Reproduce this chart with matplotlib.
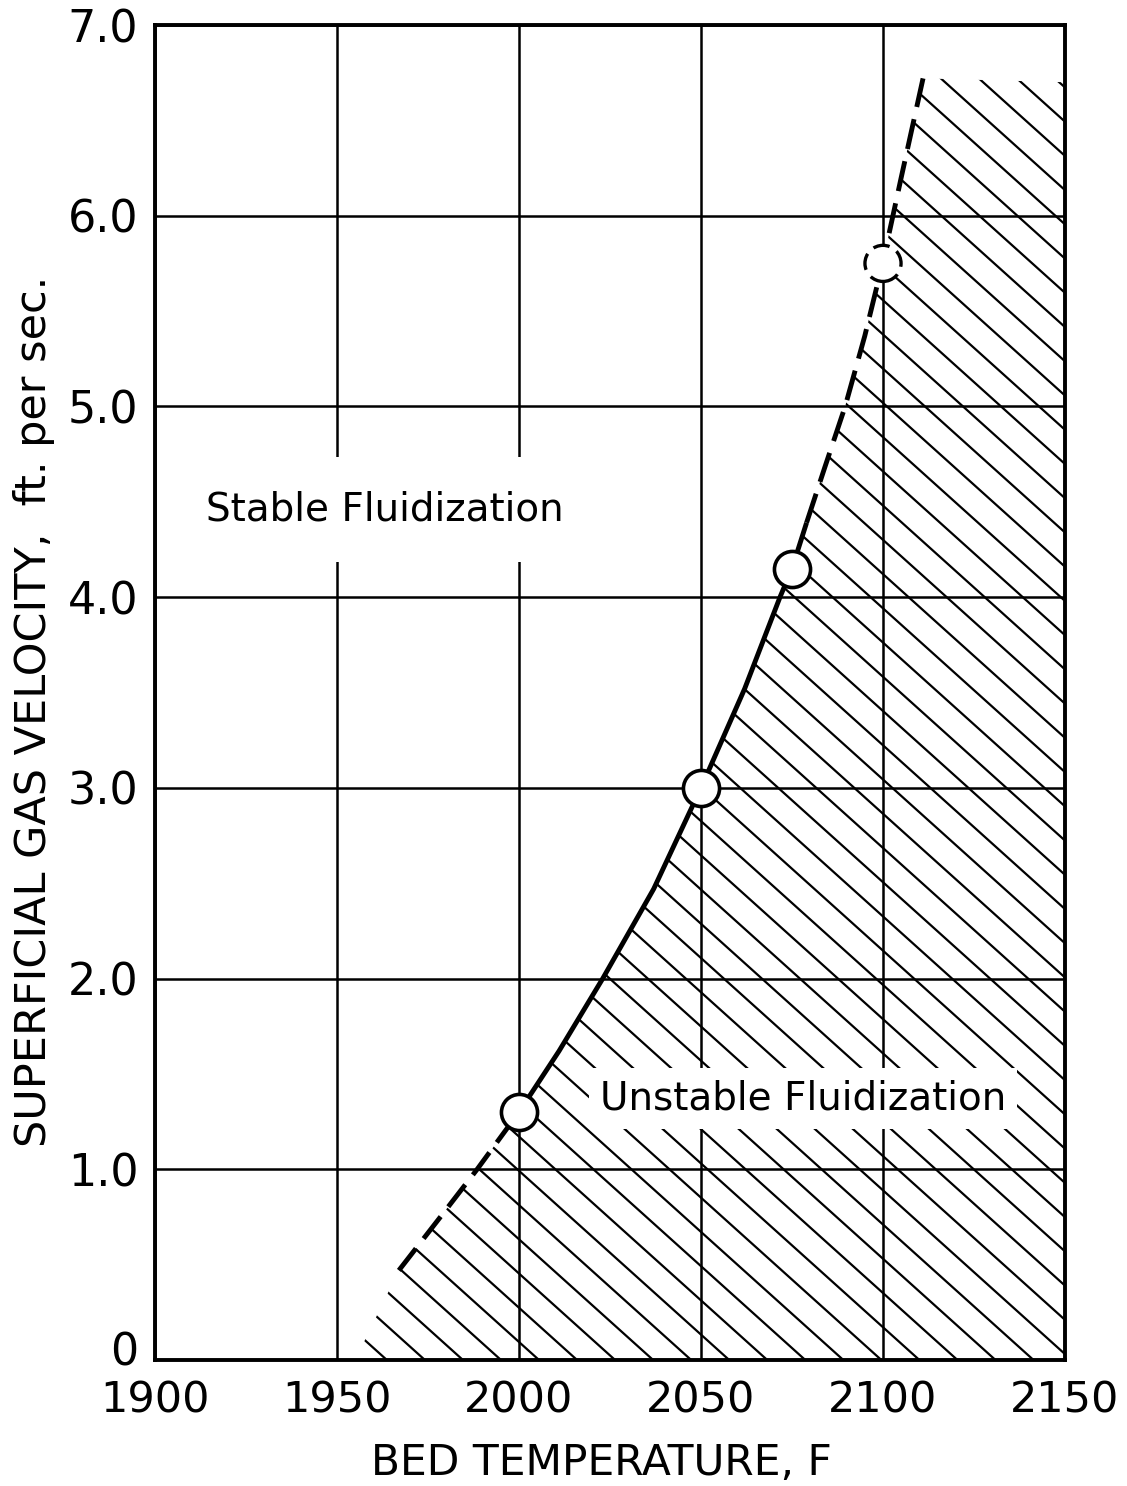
import numpy as np
import matplotlib
matplotlib.use("Agg")
import matplotlib.pyplot as plt
from matplotlib.patches import Polygon
from matplotlib.transforms import ScaledTranslation

# boundary curve between stable / unstable fluidization
curve_temp = [1967, 1978, 1988.5, 2000, 2011, 2023, 2037, 2050, 2062, 2071.7,
              2075, 2079, 2084, 2089.6, 2095, 2100, 2105, 2111]
curve_vel = [0.47, 0.74, 1.00, 1.30, 1.62, 2.00, 2.47, 3.00, 3.52, 4.00,
             4.15, 4.39, 4.68, 5.00, 5.37, 5.76, 6.20, 6.72]

# measured points and the extrapolated one
obs_temp = [2000, 2050, 2075]
obs_vel = [1.30, 3.00, 4.15]
extra_temp = [2100]
extra_vel = [5.75]

x_ticks = [1900, 1950, 2000, 2050, 2100, 2150]
y_ticks = [0, 1, 2, 3, 4, 5, 6, 7]
y_ticklabels = ["0", "1.0", "2.0", "3.0", "4.0", "5.0", "6.0", "7.0"]

plt.rcParams["font.family"] = ["DejaVu Sans"]
plt.rcParams["lines.scale_dashes"] = False

fig = plt.figure(figsize=(11.27, 14.86), dpi=100)
ax = fig.add_axes([155 / 1127, 1 - 1360 / 1486, 910 / 1127, 1335 / 1486])

ax.set_xlim(1900, 2150)
ax.set_ylim(0, 7)
ax.set_xticks(x_ticks)
ax.set_yticks(y_ticks)
ax.set_yticklabels(y_ticklabels)
ax.tick_params(axis="y", length=0, labelsize=32, pad=12)
ax.tick_params(axis="x", length=0, labelsize=31, pad=14)
ax.grid(True, color="black", lw=1.8)
for s in ax.spines.values():
    s.set_linewidth(2.8)

# the "0" sits a little above the corner so it clears "1900"
zero = ax.get_yticklabels()[0]
zero.set_transform(zero.get_transform() + ScaledTranslation(0, 8 / 72, fig.dpi_scale_trans))

# hatched unstable region, lines clipped to the region
t = np.array(curve_temp)
v = np.array(curve_vel)
verts = [(1955, 0)] + list(zip(t, v)) + [(2150, 6.7), (2150, 0)]
region = Polygon(verts, closed=True, fc="none", ec="none")
ax.add_patch(region)
slope = 0.9 * (7 / 1335) / (250 / 910)
for i in range(-3, 60):
    t0 = 1963.7 + 10.45 * i
    ln, = ax.plot([t0 - 7.0 / slope, t0], [7.0, 0.0], color="black", lw=1.6, zorder=2)
    ln.set_clip_path(region)

# boundary: dashed below 2000, solid to ~2079, dashed above
lo = t <= 2000
mid = (t >= 2000) & (t <= 2079)
hi = t >= 2079
ax.plot(t[lo], v[lo], color="black", lw=3.5, ls=(0, (20, 9)), zorder=4)
ax.plot(t[mid], v[mid], color="black", lw=3.5, solid_capstyle="butt", zorder=4)
ax.plot(t[hi], v[hi], color="black", lw=3.5, ls=(0, (22, 9)), zorder=4)

ax.plot(obs_temp, obs_vel, "o", ms=26, mfc="white", mec="black", mew=2.6, zorder=5)
ax.scatter(extra_temp, extra_vel, s=26 ** 2, facecolor="white", edgecolor="black",
           linewidths=2.4, linestyles=(0, (12, 6)), zorder=5)

ax.text(1963, 4.46, "Stable Fluidization", fontsize=28, ha="center", va="center",
        bbox=dict(fc="white", ec="none", pad=24), zorder=3)
ax.text(2078, 1.37, "Unstable Fluidization", fontsize=28, ha="center", va="center",
        bbox=dict(fc="white", ec="none", pad=8), zorder=3)

fig.text(0.534, 0.0075, "BED TEMPERATURE, F", fontsize=30.5, ha="center", va="baseline")
fig.text(0.030, 0.521, "SUPERFICIAL GAS VELOCITY,  ft. per sec.", fontsize=31,
         rotation=90, ha="center", va="center")

fig.savefig("out.png", dpi=100)
